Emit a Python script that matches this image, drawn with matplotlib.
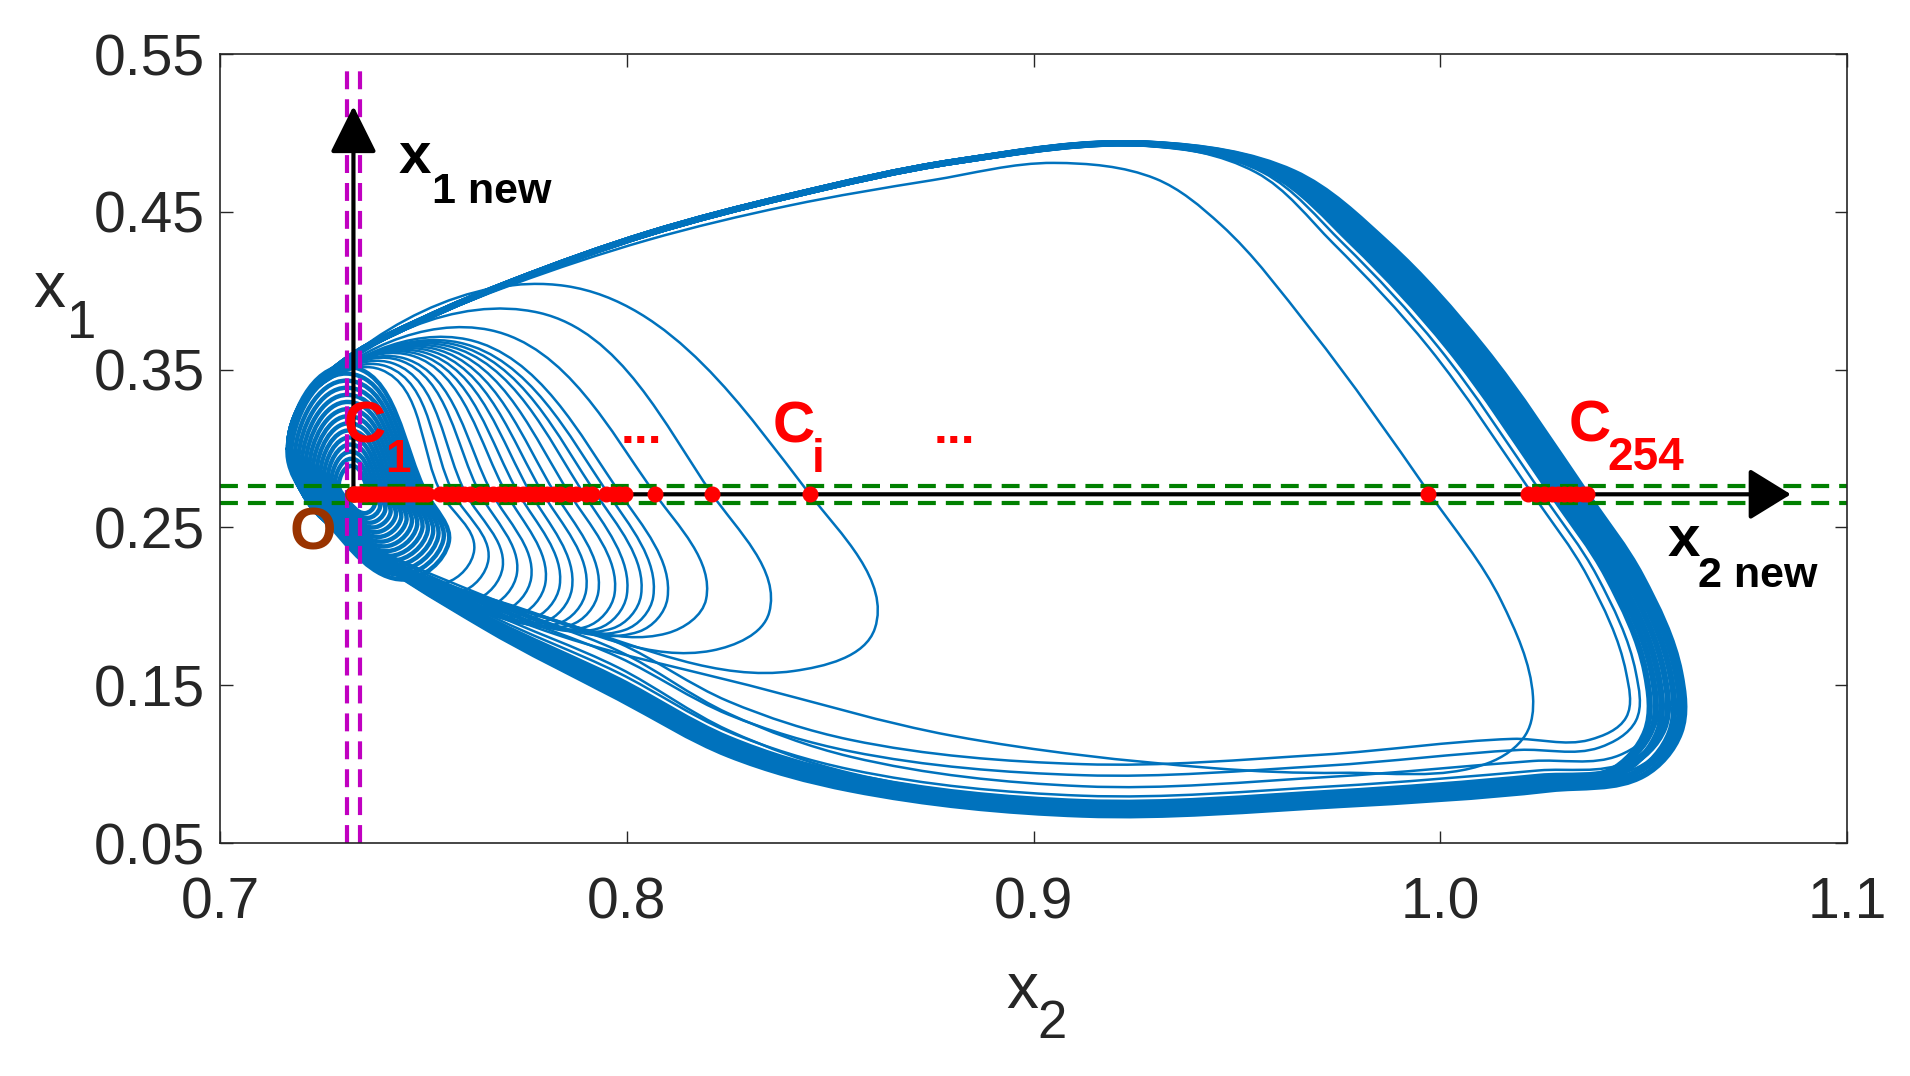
import numpy as np
import matplotlib
matplotlib.use("Agg")
import matplotlib.pyplot as plt
from matplotlib.path import Path
from matplotlib.patches import PathPatch

plt.rcParams['font.family'] = ['Liberation Sans', 'DejaVu Sans']

BLUE = '#0072BD'

# ---- data ----
# crossings of the trajectory with the x2_new axis (x1 = 0.271)
cross_x2 = [0.7330, 0.7335, 0.7340, 0.7345, 0.7350, 0.7360, 0.7370, 0.7380, 0.7390,
            0.7400, 0.7410, 0.7420, 0.7430, 0.7440, 0.7450, 0.7460, 0.7470, 0.7480,
            0.7490, 0.7500, 0.7510,
            0.7540, 0.7555, 0.7570, 0.7585, 0.7600, 0.7615,
            0.7640, 0.7655, 0.7670, 0.7685,
            0.7700, 0.7715, 0.7730, 0.7745, 0.7760, 0.7775, 0.7790, 0.7805, 0.7820, 0.7835,
            0.7860, 0.7875, 0.7900, 0.7915,
            0.7950, 0.7965, 0.7980, 0.7995,
            0.807, 0.821, 0.845, 0.997,
            1.0215, 1.0235, 1.0255, 1.0275, 1.0290, 1.0305, 1.0320, 1.0335, 1.0350, 1.0360]
x1_axis = 0.271
x2_axis = 0.7328

# outer loop of the attractor (outer line of the thick band), clockwise from the left tip
outer_x2 = [0.7170, 0.7205, 0.7320, 0.7500, 0.7720, 0.8050, 0.8400, 0.8810, 0.9300,
            0.9640, 0.9870, 1.0105, 1.0360, 1.0495, 1.0590, 1.0590, 1.0500, 1.0270,
            0.9750, 0.9120, 0.8550, 0.8250, 0.7980, 0.7650, 0.7300, 0.7220]
outer_x1 = [0.300, 0.330, 0.358, 0.382, 0.406, 0.436, 0.460, 0.482, 0.493,
            0.475, 0.430, 0.364, 0.271, 0.219, 0.158, 0.120, 0.093, 0.084,
            0.074, 0.068, 0.084, 0.106, 0.142, 0.187, 0.246, 0.266]

# loops of the thick band: crossing, lift at the bottom, lift of the return path
band_c = [1.0275, 1.0290, 1.0305, 1.0320, 1.0335, 1.0350, 1.0360]
band_b = [0.003, 0.006, 0.002, 0.008, 0.001, 0.004, 0.000]
band_r = [0.004, 0.008, 0.002, 0.010, 0.001, 0.005, 0.000]
# thinner loops of the same family, seen apart in the lower fan
fan_c = [1.0227, 1.0251, 1.0300, 1.0320, 1.0345]
fan_b = [0.032, 0.025, 0.018, 0.012, 0.007]
fan_r = [0.030, 0.022, 0.027, 0.014, 0.018]

# single loop crossing at 0.997
big_x2 = [0.7172, 0.7205, 0.7320, 0.7500, 0.7720, 0.8050, 0.8400, 0.8750, 0.9050,
          0.9300, 0.9460, 0.9680, 0.9975, 1.0150, 1.0228, 1.0210, 1.0117, 0.9755,
          0.9440, 0.8800, 0.8300, 0.7840, 0.7520, 0.7320, 0.7222]
big_x1 = [0.300, 0.330, 0.357, 0.381, 0.404, 0.432, 0.454, 0.470, 0.481,
          0.471, 0.442, 0.376, 0.271, 0.2034, 0.1429, 0.1187, 0.1006, 0.0945,
          0.0975, 0.118, 0.150, 0.181, 0.214, 0.244, 0.266]

# medium loops: crossing, top, rightmost, bottom, return point
med_c = [0.7545, 0.7575, 0.7605, 0.7640, 0.7670, 0.7705, 0.7735, 0.7765, 0.7795,
         0.7825, 0.7860, 0.7895, 0.7925, 0.7955, 0.7985, 0.807, 0.821, 0.845]
med_tx = [0.7395, 0.7410, 0.7425, 0.7440, 0.7455, 0.7470, 0.7485, 0.7500, 0.7515,
          0.7530, 0.7545, 0.7560, 0.7575, 0.7590, 0.7610, 0.7665, 0.7785, 0.7850]
med_ty = [0.350, 0.352, 0.354, 0.356, 0.357, 0.359, 0.360, 0.361, 0.362,
          0.363, 0.364, 0.365, 0.366, 0.367, 0.369, 0.375, 0.386, 0.403]
med_rx = [0.7625, 0.7660, 0.7695, 0.7730, 0.7765, 0.7800, 0.7835, 0.7865, 0.7900,
          0.7930, 0.7970, 0.8000, 0.8035, 0.8065, 0.8100, 0.8195, 0.8350, 0.8610]
med_ry = [0.236, 0.230, 0.225, 0.221, 0.218, 0.215, 0.213, 0.211, 0.210,
          0.209, 0.208, 0.207, 0.207, 0.206, 0.205, 0.2045, 0.196, 0.186]
med_bx = [0.7555, 0.7590, 0.7625, 0.7660, 0.7695, 0.7730, 0.7765, 0.7795, 0.7830,
          0.7860, 0.7900, 0.7930, 0.7965, 0.7995, 0.8030, 0.8100, 0.8210, 0.8410]
med_by = [0.215, 0.209, 0.204, 0.200, 0.197, 0.194, 0.192, 0.190, 0.189,
          0.188, 0.187, 0.186, 0.186, 0.185, 0.184, 0.183, 0.172, 0.159]
med_dx = [0.743, 0.745, 0.7465, 0.748, 0.750, 0.752, 0.7535, 0.755, 0.7565,
          0.758, 0.760, 0.7615, 0.763, 0.7645, 0.766, 0.770, 0.776, 0.786]
med_dy = [0.226, 0.222, 0.219, 0.217, 0.215, 0.213, 0.212, 0.211, 0.210,
          0.209, 0.208, 0.207, 0.206, 0.205, 0.204, 0.202, 0.196, 0.188]

# small loops of the spiral around O: left, top, crossing, right, bottom, lower-left
core_c = [0.7368, 0.7378, 0.7388, 0.7398, 0.7408, 0.7418, 0.7428, 0.7438,
          0.7448, 0.7458, 0.7468, 0.7478, 0.7488, 0.7498, 0.7508]
core_lx = [0.7292, 0.7283, 0.7274, 0.7265, 0.7256, 0.7247, 0.7238, 0.7229,
           0.7220, 0.7211, 0.7202, 0.7193, 0.7184, 0.7175, 0.7166]
core_ly = [0.2774, 0.2790, 0.2806, 0.2822, 0.2838, 0.2854, 0.2870, 0.2886,
           0.2902, 0.2918, 0.2934, 0.2950, 0.2966, 0.2982, 0.2998]
core_tx = [0.7324, 0.7323, 0.7322, 0.7321, 0.7320, 0.7319, 0.7318, 0.7317,
           0.7316, 0.7315, 0.7314, 0.7313, 0.7312, 0.7311, 0.7310]
core_ty = [0.2890, 0.2935, 0.2980, 0.3025, 0.3070, 0.3115, 0.3160, 0.3205,
           0.3250, 0.3295, 0.3340, 0.3385, 0.3430, 0.3475, 0.3520]
core_rx = [0.7380, 0.7393, 0.7406, 0.7419, 0.7432, 0.7445, 0.7458, 0.7471,
           0.7484, 0.7497, 0.7510, 0.7523, 0.7536, 0.7549, 0.7562]
core_ry = [0.2642, 0.2625, 0.2608, 0.2591, 0.2574, 0.2557, 0.2540, 0.2523,
           0.2506, 0.2489, 0.2472, 0.2455, 0.2438, 0.2421, 0.2404]
core_bx = [0.7356, 0.7363, 0.7370, 0.7377, 0.7384, 0.7391, 0.7398, 0.7405,
           0.7412, 0.7419, 0.7426, 0.7433, 0.7440, 0.7447, 0.7454]
core_by = [0.2590, 0.2560, 0.2530, 0.2500, 0.2470, 0.2440, 0.2410, 0.2380,
           0.2350, 0.2320, 0.2290, 0.2260, 0.2230, 0.2200, 0.2170]
core_ex = [0.7314, 0.7311, 0.7307, 0.7304, 0.7300, 0.7297, 0.7293, 0.7290,
           0.7286, 0.7283, 0.7279, 0.7276, 0.7272, 0.7269, 0.7265]
core_ey = [0.2670, 0.2660, 0.2650, 0.2640, 0.2630, 0.2620, 0.2610, 0.2600,
           0.2590, 0.2580, 0.2570, 0.2560, 0.2550, 0.2540, 0.2530]

x_ticks = [0.7, 0.8, 0.9, 1.0, 1.1]
x_ticklabels = ['0.7', '0.8', '0.9', '1.0', '1.1']
y_ticks = [0.05, 0.15, 0.25, 0.35, 0.45, 0.55]
y_ticklabels = ['0.05', '0.15', '0.25', '0.35', '0.45', '0.55']

# rough pixel size of one data unit, used only to shape the curves
SX, SY = 4065.0, 1580.0


def loop_path(xs, ys):
    # closed smooth curve through the read points (cubic Bezier segments)
    p = np.column_stack([np.asarray(xs) * SX, np.asarray(ys) * SY])
    n = len(p)
    tan = []
    for i in range(n):
        a = p[i] - p[i - 1]
        b = p[(i + 1) % n] - p[i]
        t = a / np.hypot(*a) + b / np.hypot(*b)
        tan.append(t / np.hypot(*t))
    verts = [p[0]]
    codes = [Path.MOVETO]
    for i in range(n):
        j = (i + 1) % n
        d = np.hypot(*(p[j] - p[i]))
        verts += [p[i] + tan[i] * d / 3.0, p[j] - tan[j] * d / 3.0, p[j]]
        codes += [Path.CURVE4] * 3
    verts = np.array(verts) / [SX, SY]
    return Path(verts, codes)


def draw_loop(ax, xs, ys, lw=1.8):
    ax.add_patch(PathPatch(loop_path(xs, ys), fill=False, edgecolor=BLUE, lw=lw,
                           capstyle='round', joinstyle='round'))


fig = plt.figure(figsize=(19.1, 10.76), dpi=100)
ax = fig.add_axes([0.1152, 0.2165, 0.8518, 0.7333])

# which read points of the outer loop move for the inner loops of the band
right_w = np.array([0, 0, 0, 0, 0, 0, 0, 0, 0.3, 0.7, 1, 1, 1, 1, 1, 1, 1, 0.7, 0.3, 0, 0, 0, 0, 0, 0, 0])
bottom_w = np.array([0, 0, 0, 0, 0, 0, 0, 0, 0, 0, 0, 0, 0, 0, 0, 0.3, 0.7, 1, 1, 1, 0.7, 0.4, 0.15, 0.05, 0, 0])
return_w = np.array([0, 0, 0, 0, 0, 0, 0, 0, 0, 0, 0, 0, 0, 0, 0, 0, 0, 0, 0, 0, 0.3, 0.7, 1, 0.6, 0.1, 0])

ox = np.array(outer_x2)
oy = np.array(outer_x1)

# spiral core
for i in range(len(core_c)):
    draw_loop(ax,
              [core_lx[i], core_tx[i], core_c[i], core_rx[i], core_bx[i], core_ex[i]],
              [core_ly[i], core_ty[i], x1_axis, core_ry[i], core_by[i], core_ey[i]], lw=3.2)

# medium loops
for i in range(len(med_c)):
    draw_loop(ax,
              [0.7172, 0.7205, med_tx[i], med_c[i], med_rx[i], med_bx[i], med_dx[i], 0.7300, 0.7222],
              [0.300, 0.330, med_ty[i], x1_axis, med_ry[i], med_by[i], med_dy[i], 0.246, 0.266], lw=1.8)

# loop through 0.997
draw_loop(ax, big_x2, big_x1, lw=1.8)

# outer band and its fan
for c, b, r in zip(fan_c, fan_b, fan_r):
    draw_loop(ax, ox - right_w * (outer_x2[12] - c), oy + bottom_w * b + return_w * r, lw=1.8)
for c, b, r in zip(band_c, band_b, band_r):
    draw_loop(ax, ox - right_w * (outer_x2[12] - c), oy + bottom_w * b + return_w * r, lw=4.5)

# reference lines of the new frame
ax.axhline(x1_axis + 0.0055, color='#008000', lw=3, dashes=(4.3, 2.4))
ax.axhline(x1_axis - 0.0055, color='#008000', lw=3, dashes=(4.3, 2.4))
ax.plot([x2_axis - 0.0016] * 2, [0.05, 0.5425], color='#C000C0', lw=3, dashes=(4.3, 2.4))
ax.plot([x2_axis + 0.0016] * 2, [0.05, 0.5425], color='#C000C0', lw=3, dashes=(4.3, 2.4))

# new axes arrows
ax.annotate('', xy=(x2_axis, 0.517), xytext=(x2_axis, x1_axis),
            arrowprops=dict(arrowstyle='-|>,head_length=1.45,head_width=0.72',
                            mutation_scale=20, lw=3, color='black', shrinkA=0, shrinkB=0))
ax.annotate('', xy=(1.0862, x1_axis), xytext=(x2_axis, x1_axis),
            arrowprops=dict(arrowstyle='-|>,head_length=1.3,head_width=0.8',
                            mutation_scale=20, lw=3, fc='black', ec='black',
                            shrinkA=0, shrinkB=0))

# origin and crossing points
ax.plot([x2_axis], [x1_axis], 'o', color='#993300', ms=11, zorder=5)
ax.plot(cross_x2, [x1_axis] * len(cross_x2), 'o', color='red', ms=10.5, mec='red', zorder=6)

# annotations
ax.text(0.7303, 0.3038, 'C', color='red', fontsize=42, fontweight='bold', zorder=7)
ax.text(0.7406, 0.2854, '1', color='red', fontsize=33, fontweight='bold', zorder=7)
ax.text(0.8359, 0.3038, 'C', color='red', fontsize=42, fontweight='bold', zorder=7)
ax.text(0.8456, 0.2854, 'i', color='red', fontsize=33, fontweight='bold', zorder=7)
ax.text(1.0316, 0.3044, 'C', color='red', fontsize=42, fontweight='bold', zorder=7)
ax.text(1.0412, 0.2867, '254', color='red', fontsize=33, fontweight='bold', zorder=7)
ax.text(0.7986, 0.3038, '...', color='red', fontsize=36, fontweight='bold', zorder=7)
ax.text(0.8754, 0.3038, '...', color='red', fontsize=36, fontweight='bold', zorder=7)
ax.text(0.7170, 0.2361, 'O', color='#993300', fontsize=43, fontweight='bold', zorder=7)
ax.text(0.7440, 0.4747, 'x', color='black', fontsize=42, fontweight='bold')
ax.text(0.7522, 0.4557, '1 new', color='black', fontsize=31, fontweight='bold')
ax.text(1.0560, 0.2316, 'x', color='black', fontsize=42, fontweight='bold')
ax.text(1.0633, 0.2120, '2 new', color='black', fontsize=31, fontweight='bold')

ax.set_xlim(0.7, 1.1)
ax.set_ylim(0.05, 0.55)
ax.set_xticks(x_ticks)
ax.set_xticklabels(x_ticklabels)
ax.set_yticks(y_ticks)
ax.set_yticklabels(y_ticklabels)
ax.tick_params(direction='in', length=9, width=1, colors='#262626', labelsize=41,
               top=True, right=True)
ax.tick_params(axis='x', pad=24)
ax.tick_params(axis='y', pad=11)
for s in ax.spines.values():
    s.set_color('#262626')
    s.set_linewidth(1.2)

# axis labels (x with subscript)
fig.text(0.5267, 0.0634, 'x', fontsize=46, color='#262626')
fig.text(0.5429, 0.0353, '2', fontsize=38, color='#262626')
fig.text(0.0173, 0.7147, 'x', fontsize=46, color='#262626')
fig.text(0.0351, 0.6859, '1', fontsize=38, color='#262626')

fig.savefig('out.png', dpi=100)
